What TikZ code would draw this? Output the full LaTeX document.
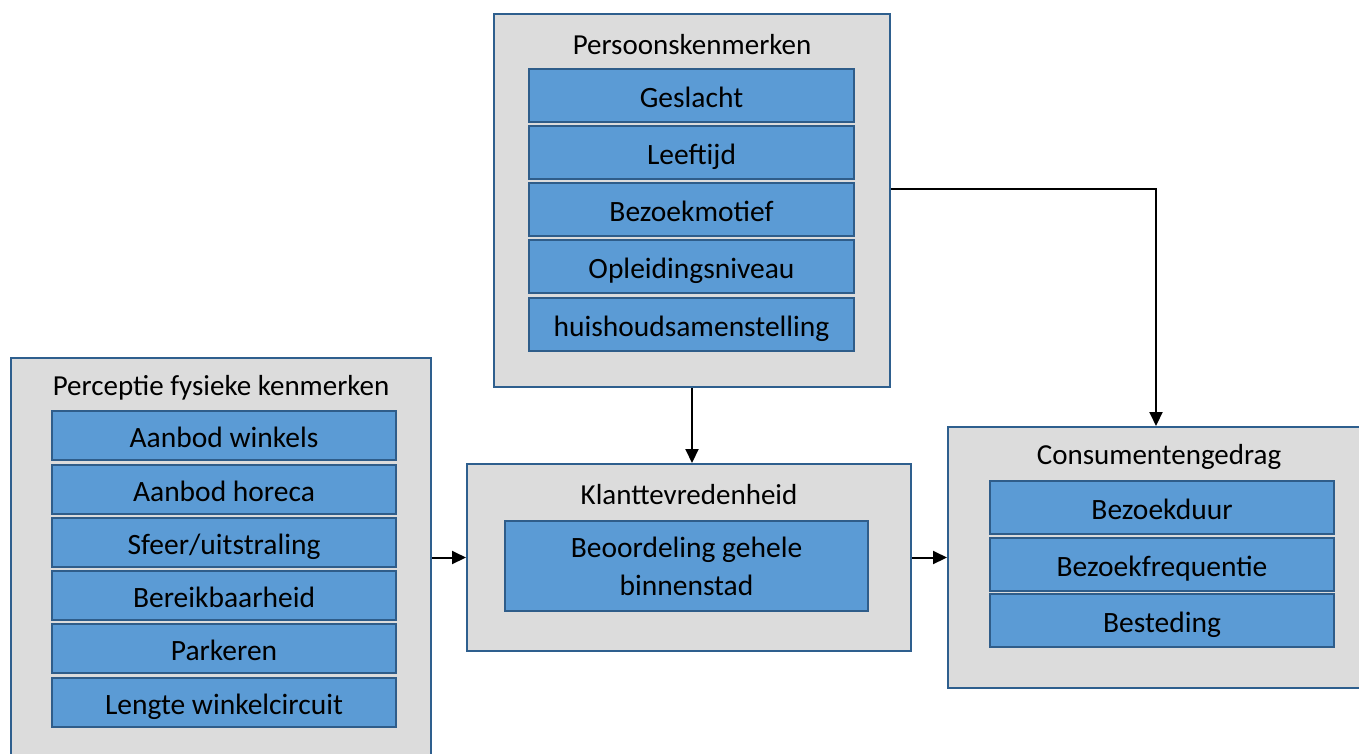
\documentclass[tikz,border=0pt]{standalone}
\usepackage{fontspec}
\setmainfont{Carlito}
\usetikzlibrary{arrows.meta}
\definecolor{kaderblauw}{HTML}{2E5F8E}
\definecolor{vakblauw}{HTML}{5B9BD5}
\definecolor{vakrand}{HTML}{2F5D8A}
\definecolor{kadergrijs}{HTML}{DCDCDC}
\tikzset{
  kader/.style={draw=kaderblauw,fill=kadergrijs,line width=2pt,minimum width=#1},
  vak/.style={draw=vakrand,fill=vakblauw,line width=2pt,minimum width=#1,inner sep=0pt,
    font=\fontsize{29.5}{38}\selectfont},
  regel/.style={vak=#1,text height=24pt,text depth=0pt},
  titel/.style={font=\fontsize{29}{34}\selectfont},
  pijl/.style={-{Triangle[length=14pt,width=13pt]},line width=2pt}
}
\begin{document}
\begin{tikzpicture}[x=1pt,y=-1pt]
  \clip (0,0) rectangle (1359,753);
  \fill[white] (0,0) rectangle (1359,753);
  % kaders
  \node[kader=396pt,minimum height=373pt] (persoon) at (692,200.5) {};
  \node[kader=420pt,minimum height=422pt] (perceptie) at (221,569) {};
  \node[kader=444pt,minimum height=187pt] (klant) at (689,557.5) {};
  \node[kader=432pt,minimum height=261pt] (consument) at (1164,557.5) {};
  % titels
  \node[titel] (persoontitel) at (692,45) {Persoonskenmerken};
  \node[titel] (perceptietitel) at (221,388) {Perceptie fysieke kenmerken};
  \node[titel] (klanttitel) at (689,495) {Klanttevredenheid};
  \node[titel] (consumenttitel) at (1159,457) {Consumentengedrag};
  % persoonskenmerken
  \node[regel=325pt,minimum height=53pt] (geslacht) at (691.5,95.5) {Geslacht};
  \node[regel=325pt,minimum height=53pt] (leeftijd) at (691.5,152.5) {Leeftijd};
  \node[regel=325pt,minimum height=53pt] (motief) at (691.5,209.5) {Bezoekmotief};
  \node[regel=325pt,minimum height=53pt] (opleiding) at (691.5,266.5) {Opleidingsniveau};
  \node[regel=325pt,minimum height=53pt] (huishouden) at (691.5,324) {huishoudsamenstelling};
  % fysieke kenmerken
  \node[regel=344pt,minimum height=49pt] (winkels) at (224,435) {Aanbod winkels};
  \node[regel=344pt,minimum height=49pt] (horeca) at (224,489) {Aanbod horeca};
  \node[regel=344pt,minimum height=49pt] (sfeer) at (224,542.5) {Sfeer/uitstraling};
  \node[regel=344pt,minimum height=49pt] (bereik) at (224,595.5) {Bereikbaarheid};
  \node[regel=344pt,minimum height=49pt] (parkeren) at (224,648.5) {Parkeren};
  \node[regel=344pt,minimum height=49pt] (circuit) at (224,702) {Lengte winkelcircuit};
  % klanttevredenheid
  \node[vak=363pt,minimum height=90pt,align=center] (oordeel) at (686.5,566) {Beoordeling gehele\\binnenstad};
  % consumentengedrag
  \node[regel=344pt,minimum height=53pt] (duur) at (1162,507.5) {Bezoekduur};
  \node[regel=344pt,minimum height=53pt] (frequentie) at (1162,564) {Bezoekfrequentie};
  \node[regel=344pt,minimum height=53pt] (besteding) at (1162,620.5) {Besteding};
  % pijlen
  \draw[pijl] (persoon.south) -- (persoon.south |- klant.north);
  \draw[pijl] (klant.west -| perceptie.east) -- (klant.west);
  \draw[pijl] (klant.east) -- (klant.east -| consument.west);
  \draw[pijl] ([yshift=11.5pt]persoon.east) -| ([xshift=-8pt]consument.north);
\end{tikzpicture}
\end{document}
